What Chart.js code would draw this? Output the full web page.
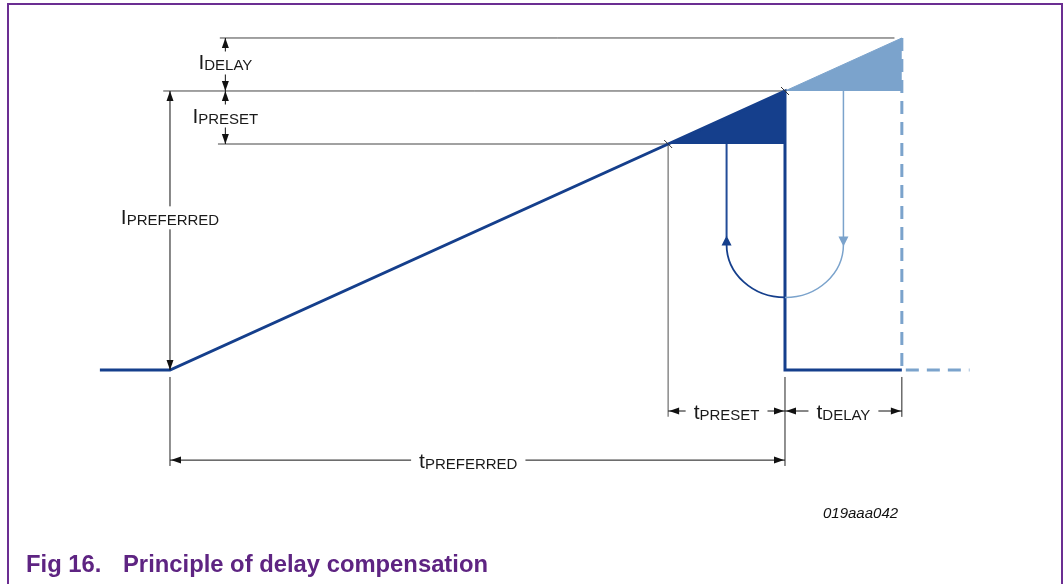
<!DOCTYPE html>
<html>
<head>
<meta charset="utf-8">
<script src="https://cdn.jsdelivr.net/npm/chart.js@4/dist/chart.umd.min.js"></script>
<style>
  body { margin: 0; background: #fff; }
  #wrap { position: relative; width: 1064px; height: 584px; overflow: hidden; background: #fff; }
  #chart { position: absolute; left: 0; top: 0; }
  .frame { position: absolute; left: 7px; top: 3px; width: 1056px; height: 640px; box-sizing: border-box;
           border: 2px solid #6b2e92; border-bottom: none; }
  .figid { position: absolute; left: 823px; top: 505px; font: italic 15px/15px "Liberation Sans", Arial, sans-serif; color: #111; }
  .caption { position: absolute; left: 26px; top: 552px; font: bold 23.8px/23px "Liberation Sans", Arial, sans-serif; color: #5e2482; white-space: nowrap; }
  .caption span { display: inline-block; width: 97px; }
</style>
</head>
<body>
<div id="wrap">
  <canvas id="chart" width="1064" height="584"></canvas>
  <div class="frame"></div>
  <div class="figid">019aaa042</div>
  <div class="caption"><span>Fig 16.</span>Principle of delay compensation</div>
</div>
<script>
// time in % of tPREFERRED (0 = ramp start), current in % of IPREFERRED
var signalT = [-11.4, 0, 100, 100, 119];
var signalI = [0, 0, 100, 0, 0];
var presetWedgeT = [81, 100];
var presetWedgeI = [81, 100];
var delayWedgeT = [100, 119];
var delayWedgeI = [100, 119];
var delayedT = [119, 119, 130];
var delayedI = [119, 0, 0];

// levels and marks used by the dimension lines
var levelI = [119, 100, 81];
var markT = [0, 81, 100, 119];

// [top, bottom, label position] in current units, plus label text
var currentDims = [[119, 100, 109.5], [100, 81, 90.5], [100, 0, 54]];
var currentLabels = [['I', 'DELAY'], ['I', 'PRESET'], ['I', 'PREFERRED']];
// [from, to, label centre] in time units, row in current units
var timeDims = [[81, 100, 90.5], [100, 119, 109.5], [0, 100, 48.5]];
var timeRows = [-14.7, -14.7, -32.3];
var timeLabels = [['t', 'PRESET'], ['t', 'DELAY'], ['t', 'PREFERRED']];

var DARK = '#153f8c';
var LIGHT = '#7ba3cc';
var FONT = '"Liberation Sans", Arial, sans-serif';

function pts(ts, is) {
    return ts.map(function (t, k) { return { x: t, y: is[k] }; });
}

function arrowHead(ctx, x, y, dir, color, L, W) {
    L = L || 10;
    W = W || 3.5;
    ctx.fillStyle = color;
    ctx.beginPath();
    ctx.moveTo(x, y);
    if (dir === 'up') { ctx.lineTo(x - W, y + L); ctx.lineTo(x + W, y + L); }
    if (dir === 'down') { ctx.lineTo(x - W, y - L); ctx.lineTo(x + W, y - L); }
    if (dir === 'left') { ctx.lineTo(x + L, y - W); ctx.lineTo(x + L, y + W); }
    if (dir === 'right') { ctx.lineTo(x - L, y - W); ctx.lineTo(x - L, y + W); }
    ctx.closePath();
    ctx.fill();
}

function seg(ctx, x1, y1, x2, y2, color, w) {
    ctx.strokeStyle = color;
    ctx.lineWidth = w;
    ctx.beginPath();
    ctx.moveTo(x1, y1);
    ctx.lineTo(x2, y2);
    ctx.stroke();
}

function subText(ctx, main, sub, cx, baseline) {
    ctx.font = '21px ' + FONT;
    var w1 = ctx.measureText(main).width;
    ctx.font = '15px ' + FONT;
    var w2 = ctx.measureText(sub).width;
    var x0 = cx - (w1 + w2) / 2;
    ctx.fillStyle = '#1a1a1a';
    ctx.textAlign = 'left';
    ctx.textBaseline = 'alphabetic';
    ctx.font = '21px ' + FONT;
    ctx.fillText(main, x0, baseline);
    ctx.font = '15px ' + FONT;
    ctx.fillText(sub, x0 + w1, baseline + 1);
    return [x0, x0 + w1 + w2];
}

var diagramPlugin = {
    id: 'diagram',
    beforeDatasetsDraw: function (chart) {
        var ctx = chart.ctx;
        var X = function (v) { return chart.scales.x.getPixelForValue(v); };
        var Y = function (v) { return chart.scales.y.getPixelForValue(v); };
        ctx.save();
        // horizontal guide lines at the current levels
        seg(ctx, X(8.1), Y(levelI[0]), X(117.8), Y(levelI[0]), '#444', 1);
        seg(ctx, X(-1.1), Y(levelI[1]), X(markT[2]), Y(levelI[1]), '#444', 1);
        seg(ctx, X(7.8), Y(levelI[2]), X(markT[1]), Y(levelI[2]), '#444', 1);
        // vertical extension lines
        seg(ctx, X(markT[1]), Y(levelI[2]), X(markT[1]), Y(-16.8), '#8a8a8a', 1.5);
        seg(ctx, X(markT[0]), Y(-2.5), X(markT[0]), Y(-34.4), '#222', 1);
        seg(ctx, X(markT[2]), Y(-2.5), X(markT[2]), Y(-34.4), '#222', 1);
        seg(ctx, X(markT[3]), Y(-2.5), X(markT[3]), Y(-16.8), '#222', 1);
        ctx.restore();
    },
    afterDatasetsDraw: function (chart) {
        var ctx = chart.ctx;
        var X = function (v) { return chart.scales.x.getPixelForValue(v); };
        var Y = function (v) { return chart.scales.y.getPixelForValue(v); };
        ctx.save();

        // current dimensions
        currentDims.forEach(function (d, k) {
            var x = k < 2 ? X(9) : X(markT[0]);
            var yt = Y(d[0]), yb = Y(d[1]);
            var base = Y(d[2]) + 5;
            seg(ctx, x, yt, x, base - 18, '#111', 1);
            seg(ctx, x, base + 5, x, yb, '#111', 1);
            arrowHead(ctx, x, yt, 'up', '#111');
            arrowHead(ctx, x, yb, 'down', '#111');
            subText(ctx, currentLabels[k][0], currentLabels[k][1], x, base);
        });

        // time dimensions
        timeDims.forEach(function (d, k) {
            var y = Y(timeRows[k]);
            var xl = X(d[0]), xr = X(d[1]);
            var ext = subText(ctx, timeLabels[k][0], timeLabels[k][1], X(d[2]), y + 8);
            seg(ctx, xl, y, ext[0] - 8, y, '#111', 1);
            seg(ctx, ext[1] + 8, y, xr, y, '#111', 1);
            arrowHead(ctx, xl + 1, y, 'left', '#111');
            arrowHead(ctx, xr - 1, y, 'right', '#111');
        });

        // feedback arrows between the two wedges
        var cx = X(100), cy = Y(45);
        var xa = X(90.5), xb = X(109.5);
        var ry = Y(26) - cy;
        seg(ctx, xa, Y(81), xa, cy - 7, '#234c98', 2);
        arrowHead(ctx, xa, cy - 9, 'up', DARK, 10, 5);
        seg(ctx, xb, Y(100), xb, cy - 6, LIGHT, 1.5);
        arrowHead(ctx, xb, cy + 2, 'down', LIGHT, 10, 5);
        ctx.lineWidth = 1.8;
        ctx.strokeStyle = DARK;
        ctx.beginPath();
        ctx.ellipse(cx, cy, cx - xa, ry, 0, Math.PI / 2, Math.PI);
        ctx.stroke();
        ctx.lineWidth = 1.5;
        ctx.strokeStyle = LIGHT;
        ctx.beginPath();
        ctx.ellipse(cx, cy, xb - cx, ry, 0, 0, Math.PI / 2);
        ctx.stroke();

        // small tick marks where the ramp crosses the levels
        [[81, 81], [100, 100]].forEach(function (p) {
            seg(ctx, X(p[0]) - 4, Y(p[1]) - 4, X(p[0]) + 4, Y(p[1]) + 4, '#333', 1);
        });
        ctx.restore();
    }
};

document.addEventListener('DOMContentLoaded', function () {
    var ctx = document.getElementById('chart').getContext('2d');
    new Chart(ctx, {
        type: 'line',
        data: {
            datasets: [
                {
                    label: 'signal',
                    data: pts(signalT, signalI),
                    borderColor: DARK,
                    borderWidth: 3,
                    fill: false,
                    order: 0
                },
                {
                    label: 'delayed',
                    data: pts(delayedT, delayedI),
                    borderColor: LIGHT,
                    borderWidth: 3,
                    borderDash: [13, 8],
                    fill: false,
                    order: 1
                },
                {
                    label: 'preset wedge',
                    data: pts(presetWedgeT, presetWedgeI),
                    borderColor: DARK,
                    backgroundColor: DARK,
                    borderWidth: 1,
                    fill: { value: presetWedgeI[0] },
                    order: 2
                },
                {
                    label: 'delay wedge',
                    data: pts(delayWedgeT, delayWedgeI),
                    borderColor: LIGHT,
                    backgroundColor: LIGHT,
                    borderWidth: 1,
                    fill: { value: delayWedgeI[0] },
                    order: 3
                }
            ]
        },
        options: {
            responsive: false,
            animation: false,
            layout: { padding: 0 },
            elements: { point: { radius: 0 }, line: { tension: 0 } },
            scales: {
                x: { type: 'linear', display: false, min: -27.642, max: 145.366 },
                y: { type: 'linear', display: false, min: -76.703, max: 132.616 }
            },
            plugins: {
                legend: { display: false },
                tooltip: { enabled: false }
            }
        },
        plugins: [diagramPlugin]
    });
});
</script>
</body>
</html>
